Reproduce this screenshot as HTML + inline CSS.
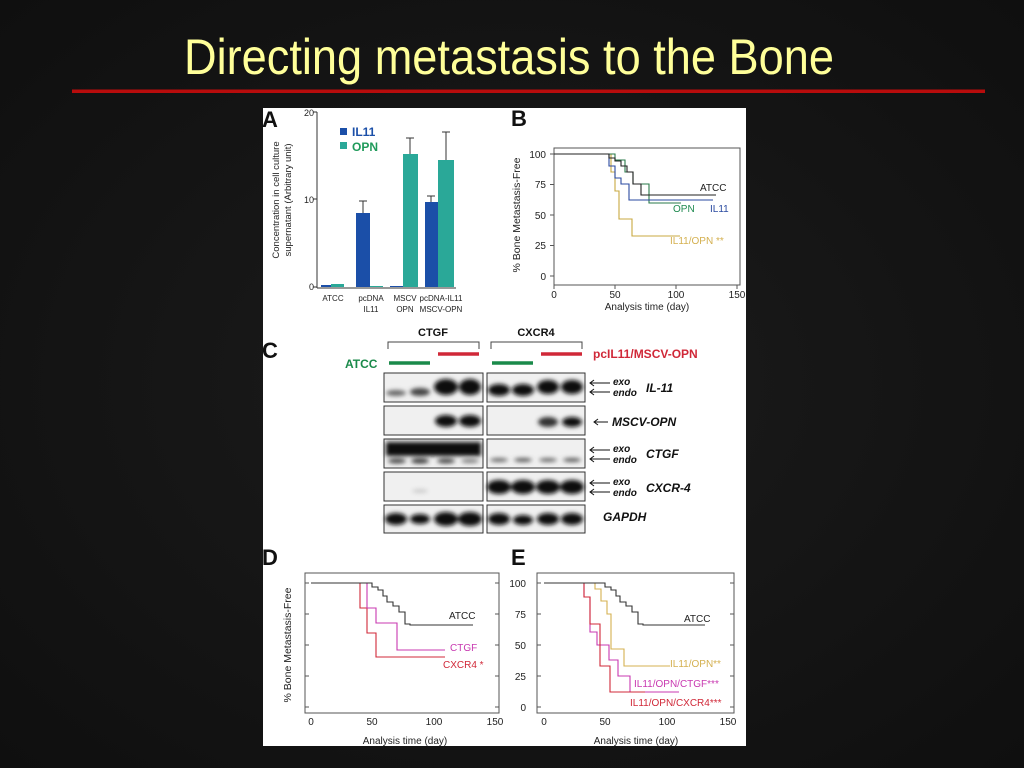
<!DOCTYPE html>
<html><head><meta charset="utf-8"><style>
html,body{margin:0;padding:0;background:#141414;width:1024px;height:768px;overflow:hidden}
svg{display:block}
text{font-family:"Liberation Sans",Arial,sans-serif}
</style></head><body>
<svg width="1024" height="768" viewBox="0 0 1024 768" xmlns="http://www.w3.org/2000/svg">
<defs>
<radialGradient id="bg" cx="50%" cy="50%" r="70%"><stop offset="0" stop-color="#1c1c1c"/><stop offset="1" stop-color="#0f0f0f"/></radialGradient>
<filter id="blur"><feGaussianBlur stdDeviation="2.2"/></filter>
</defs>
<rect width="1024" height="768" fill="url(#bg)"/>
<text x="184" y="74" font-family="'Liberation Sans Narrow','Liberation Sans',sans-serif" font-size="50" fill="#ffff99" textLength="650" lengthAdjust="spacingAndGlyphs">Directing metastasis to the Bone</text>
<rect x="72" y="89.5" width="913" height="3.5" fill="#b80c0c"/>

<rect x="263" y="108" width="483" height="638" fill="#fff"/>

<!-- Panel A -->
<text x="262" y="127" font-size="22" font-weight="bold" fill="#111">A</text>
<g stroke="#333" stroke-width="1" fill="none">
<line x1="317" y1="112" x2="317" y2="288"/>
<line x1="317" y1="288" x2="456" y2="288"/>
<line x1="313" y1="112" x2="317" y2="112"/><line x1="313" y1="199" x2="317" y2="199"/><line x1="313" y1="287" x2="317" y2="287"/>
</g>
<g font-size="9" fill="#222" text-anchor="end"><text x="314" y="116">20</text><text x="314" y="203">10</text><text x="314" y="290">0</text></g>
<text transform="translate(279,200) rotate(-90)" font-size="9.5" fill="#222" text-anchor="middle">Concentration in cell culture</text>
<text transform="translate(291,200) rotate(-90)" font-size="9.5" fill="#222" text-anchor="middle">supernatant (Arbitrary unit)</text>
<g fill="#1b4fa8">
<rect x="321" y="285" width="10" height="2"/><rect x="356" y="213" width="14" height="74"/><rect x="390" y="286" width="13" height="1"/><rect x="425" y="202" width="13" height="85"/>
<rect x="340" y="128" width="7" height="7"/>
</g>
<g fill="#2aa898">
<rect x="331" y="284" width="13" height="3"/><rect x="370" y="286" width="13" height="1"/><rect x="403" y="154" width="15" height="133"/><rect x="438" y="160" width="16" height="127"/>
<rect x="340" y="142" width="7" height="7"/>
</g>
<g stroke="#333" stroke-width="1"><line x1="363" y1="213" x2="363" y2="201"/><line x1="359" y1="201" x2="367" y2="201"/>
<line x1="410" y1="154" x2="410" y2="138"/><line x1="406" y1="138" x2="414" y2="138"/>
<line x1="431" y1="202" x2="431" y2="196"/><line x1="427" y1="196" x2="435" y2="196"/>
<line x1="446" y1="160" x2="446" y2="132"/><line x1="442" y1="132" x2="450" y2="132"/></g>
<text x="352" y="136" font-size="12" font-weight="bold" fill="#1b4fa8">IL11</text>
<text x="352" y="151" font-size="12" font-weight="bold" fill="#1f9a5a">OPN</text>
<g font-size="8" fill="#222" text-anchor="middle">
<text x="333" y="301">ATCC</text><text x="371" y="301">pcDNA</text><text x="371" y="312">IL11</text>
<text x="405" y="301">MSCV</text><text x="405" y="312">OPN</text><text x="441" y="301">pcDNA-IL11</text><text x="441" y="312">MSCV-OPN</text></g>

<!-- Panel B -->
<text x="511" y="126" font-size="22" font-weight="bold" fill="#111">B</text>
<rect x="554" y="148" width="186" height="137" fill="none" stroke="#555" stroke-width="1"/>
<g stroke="#555"><line x1="550" y1="154" x2="554" y2="154"/><line x1="550" y1="184.5" x2="554" y2="184.5"/><line x1="550" y1="215" x2="554" y2="215"/><line x1="550" y1="245.5" x2="554" y2="245.5"/><line x1="550" y1="276" x2="554" y2="276"/>
<line x1="554" y1="285" x2="554" y2="289"/><line x1="615" y1="285" x2="615" y2="289"/><line x1="676" y1="285" x2="676" y2="289"/><line x1="737" y1="285" x2="737" y2="289"/></g>
<g font-size="10" fill="#222" text-anchor="end"><text x="546" y="158">100</text><text x="546" y="188">75</text><text x="546" y="219">50</text><text x="546" y="249">25</text><text x="546" y="280">0</text></g>
<g font-size="10" fill="#222" text-anchor="middle"><text x="554" y="298">0</text><text x="615" y="298">50</text><text x="676" y="298">100</text><text x="737" y="298">150</text>
<text x="647" y="310">Analysis time (day)</text></g>
<text transform="translate(520,215) rotate(-90)" font-size="10.5" fill="#222" text-anchor="middle">% Bone Metastasis-Free</text>
<g fill="none" stroke-width="1.1">
<polyline stroke="#c8a840" points="554,154 611,154 611,172 615,172 615,191 619,191 619,219 632,219 632,236 680,236"/>
<polyline stroke="#2a7a4a" points="554,154 615,154 615,160 625,160 625,172 633,172 633,184 649,184 649,203 681,203"/>
<polyline stroke="#2a4aa0" points="554,154 609,154 609,166 615,166 615,178 621,178 621,184 629,184 629,200 713,200"/>
<polyline stroke="#222" points="554,154 609,154 609,158 615,158 615,161 621,161 621,166 627,166 627,172 633,172 633,184 641,184 641,195 716,195"/>
</g>
<g font-size="10"><text x="700" y="191" fill="#222">ATCC</text><text x="673" y="212" fill="#1f8a50">OPN</text><text x="710" y="212" fill="#2a4aa0">IL11</text><text x="670" y="244" fill="#d4b050">IL11/OPN **</text></g>

<!-- Panel C -->
<text x="262" y="358" font-size="22" font-weight="bold" fill="#111">C</text>
<g font-size="11" font-weight="bold" fill="#111" text-anchor="middle"><text x="433" y="336">CTGF</text><text x="536" y="336">CXCR4</text></g>
<g fill="none" stroke="#444"><polyline points="388,349 388,342 479,342 479,349"/><polyline points="491,349 491,342 582,342 582,349"/></g>
<g stroke-width="3.5"><line x1="389" y1="363" x2="430" y2="363" stroke="#1a8a4a"/><line x1="438" y1="354" x2="479" y2="354" stroke="#d02838"/>
<line x1="492" y1="363" x2="533" y2="363" stroke="#1a8a4a"/><line x1="541" y1="354" x2="582" y2="354" stroke="#d02838"/></g>
<text x="345" y="368" font-size="12" font-weight="bold" fill="#1a8a4a">ATCC</text>
<text x="593" y="358" font-size="12" font-weight="bold" fill="#d02838">pcIL11/MSCV-OPN</text>
<g stroke="#333" stroke-width="1" fill="#f0f0f0">
<rect x="384" y="373" width="99" height="29"/><rect x="487" y="373" width="98" height="29"/>
<rect x="384" y="406" width="99" height="29"/><rect x="487" y="406" width="98" height="29"/>
<rect x="384" y="439" width="99" height="29"/><rect x="487" y="439" width="98" height="29"/>
<rect x="384" y="472" width="99" height="29"/><rect x="487" y="472" width="98" height="29"/>
<rect x="384" y="505" width="99" height="28"/><rect x="487" y="505" width="98" height="28"/></g>
<g filter="url(#blur)" fill="#111">
<ellipse cx="396" cy="393" rx="10" ry="3" fill="#666"/><ellipse cx="420" cy="392" rx="10" ry="4" fill="#444"/><ellipse cx="446" cy="387" rx="12" ry="8"/><ellipse cx="470" cy="387" rx="11" ry="8"/>
<ellipse cx="499" cy="390" rx="11" ry="6"/><ellipse cx="523" cy="390" rx="11" ry="6"/><ellipse cx="548" cy="387" rx="11" ry="7"/><ellipse cx="572" cy="387" rx="11" ry="7"/>
<ellipse cx="446" cy="421" rx="11" ry="6"/><ellipse cx="470" cy="421" rx="11" ry="6"/><ellipse cx="548" cy="422" rx="10" ry="5" fill="#333"/><ellipse cx="572" cy="422" rx="10" ry="5"/>
<rect x="386" y="442" width="95" height="14"/>
<ellipse cx="397" cy="461" rx="9" ry="2.5" fill="#444"/><ellipse cx="420" cy="461" rx="9" ry="2.5" fill="#333"/><ellipse cx="446" cy="461" rx="9" ry="2.5" fill="#444"/><ellipse cx="470" cy="461" rx="9" ry="2" fill="#777"/>
<ellipse cx="499" cy="460" rx="9" ry="2" fill="#666"/><ellipse cx="523" cy="460" rx="9" ry="2" fill="#555"/><ellipse cx="548" cy="460" rx="9" ry="2" fill="#666"/><ellipse cx="572" cy="460" rx="9" ry="2" fill="#555"/>
<ellipse cx="420" cy="491" rx="8" ry="2" fill="#ccc"/>
<ellipse cx="499" cy="487" rx="12" ry="7"/><ellipse cx="523" cy="487" rx="12" ry="7"/><ellipse cx="548" cy="487" rx="12" ry="7"/><ellipse cx="572" cy="487" rx="12" ry="7"/>
<ellipse cx="396" cy="519" rx="11" ry="6"/><ellipse cx="420" cy="519" rx="10" ry="5"/><ellipse cx="446" cy="519" rx="12" ry="7"/><ellipse cx="470" cy="519" rx="12" ry="7"/>
<ellipse cx="499" cy="519" rx="11" ry="6"/><ellipse cx="523" cy="520" rx="10" ry="5"/><ellipse cx="548" cy="519" rx="11" ry="6"/><ellipse cx="572" cy="519" rx="11" ry="6"/>
</g>
<g font-size="10" font-style="italic" font-weight="bold" fill="#111">
<text x="613" y="385">exo</text><text x="613" y="396">endo</text><text x="646" y="392" font-size="12">IL-11</text>
<text x="612" y="426" font-size="12">MSCV-OPN</text>
<text x="613" y="452">exo</text><text x="613" y="463">endo</text><text x="646" y="458" font-size="12">CTGF</text>
<text x="613" y="485">exo</text><text x="613" y="496">endo</text><text x="646" y="492" font-size="12">CXCR-4</text>
<text x="603" y="521" font-size="12">GAPDH</text></g>
<g stroke="#111" fill="none"><path d="M590 383h20M594 380l-4 3 4 3M590 392h20M594 389l-4 3 4 3M594 422h14M598 419l-4 3 4 3M590 450h20M594 447l-4 3 4 3M590 459h20M594 456l-4 3 4 3M590 483h20M594 480l-4 3 4 3M590 492h20M594 489l-4 3 4 3"/></g>

<!-- Panel D -->
<text x="262" y="565" font-size="22" font-weight="bold" fill="#111">D</text>
<rect x="305" y="573" width="194" height="140" fill="none" stroke="#555"/>
<g stroke="#555"><line x1="305" y1="583" x2="309" y2="583"/><line x1="305" y1="614" x2="309" y2="614"/><line x1="305" y1="645" x2="309" y2="645"/><line x1="305" y1="676" x2="309" y2="676"/><line x1="305" y1="707" x2="309" y2="707"/>
<line x1="495" y1="583" x2="499" y2="583"/><line x1="495" y1="614" x2="499" y2="614"/><line x1="495" y1="645" x2="499" y2="645"/><line x1="495" y1="676" x2="499" y2="676"/><line x1="495" y1="707" x2="499" y2="707"/></g>
<g font-size="10" fill="#222" text-anchor="middle"><text x="311" y="725">0</text><text x="372" y="725">50</text><text x="434" y="725">100</text><text x="495" y="725">150</text><text x="405" y="744">Analysis time (day)</text></g>
<text transform="translate(291,645) rotate(-90)" font-size="10.5" fill="#222" text-anchor="middle">% Bone Metastasis-Free</text>
<g fill="none" stroke-width="1.1">
<polyline stroke="#d02838" points="311,583 360,583 360,608 367,608 367,633 376,633 376,657 445,657"/>
<polyline stroke="#c838b0" points="311,583 367,583 367,608 376,608 376,623 397,623 397,650 445,650"/>
<polyline stroke="#333" points="311,583 372,583 372,587 378,587 378,590 383,590 383,596 387,596 387,602 393,602 393,606 399,606 399,612 405,612 405,624 410,624 410,625 473,625"/>
</g>
<g font-size="10"><text x="449" y="619" fill="#222">ATCC</text><text x="450" y="651" fill="#c838b0">CTGF</text><text x="443" y="668" fill="#d02838">CXCR4 *</text></g>

<!-- Panel E -->
<text x="511" y="565" font-size="22" font-weight="bold" fill="#111">E</text>
<rect x="537" y="573" width="197" height="140" fill="none" stroke="#555"/>
<g stroke="#555"><line x1="537" y1="583" x2="541" y2="583"/><line x1="537" y1="614" x2="541" y2="614"/><line x1="537" y1="645" x2="541" y2="645"/><line x1="537" y1="676" x2="541" y2="676"/><line x1="537" y1="707" x2="541" y2="707"/>
<line x1="730" y1="583" x2="734" y2="583"/><line x1="730" y1="614" x2="734" y2="614"/><line x1="730" y1="645" x2="734" y2="645"/><line x1="730" y1="676" x2="734" y2="676"/><line x1="730" y1="707" x2="734" y2="707"/></g>
<g font-size="10" fill="#222" text-anchor="end"><text x="526" y="587">100</text><text x="526" y="618">75</text><text x="526" y="649">50</text><text x="526" y="680">25</text><text x="526" y="711">0</text></g>
<g font-size="10" fill="#222" text-anchor="middle"><text x="544" y="725">0</text><text x="605" y="725">50</text><text x="667" y="725">100</text><text x="728" y="725">150</text><text x="636" y="744">Analysis time (day)</text></g>
<g fill="none" stroke-width="1.1">
<polyline stroke="#d4b050" points="544,583 595,583 595,589 601,589 601,601 607,601 607,614 611,614 611,649 624,649 624,666 670,666"/>
<polyline stroke="#c838b0" points="544,583 584,583 584,597 590,597 590,632 597,632 597,645 609,645 609,660 618,660 618,676 630,676 630,692 679,692"/>
<polyline stroke="#d02838" points="544,583 584,583 584,597 590,597 590,624 600,624 600,666 610,666 610,692 645,692"/>
<polyline stroke="#333" points="544,583 605,583 605,587 611,587 611,590 616,590 616,596 620,596 620,602 626,602 626,606 632,606 632,612 638,612 638,624 643,624 643,625 705,625"/>
</g>
<g font-size="10"><text x="684" y="622" fill="#222">ATCC</text><text x="670" y="667" fill="#d4b050">IL11/OPN**</text><text x="634" y="687" fill="#c838b0">IL11/OPN/CTGF***</text><text x="630" y="706" fill="#d02838">IL11/OPN/CXCR4***</text></g>
</svg>
</body></html>
